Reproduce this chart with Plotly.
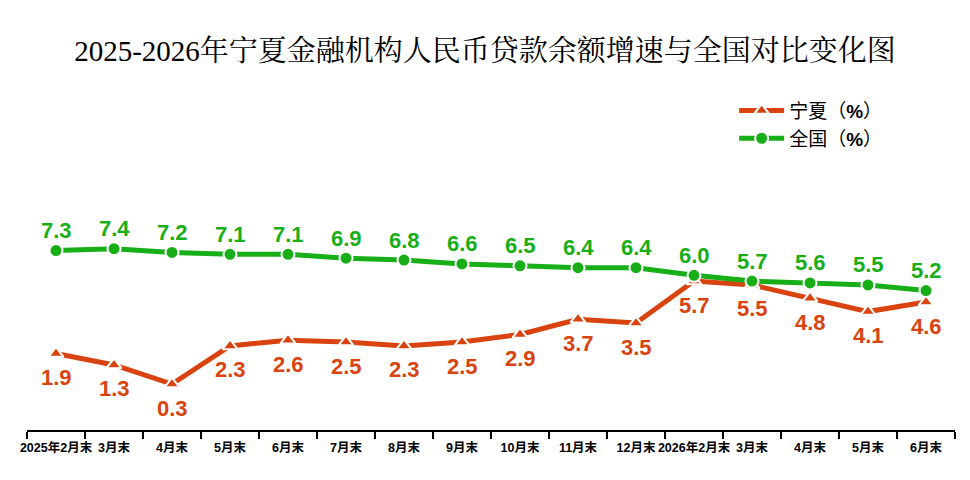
import plotly.graph_objects as go

months = ["2025年2月末", "3月末", "4月末", "5月末", "6月末", "7月末", "8月末", "9月末",
          "10月末", "11月末", "12月末", "2026年2月末", "3月末", "4月末", "5月末", "6月末"]
ningxia = [1.9, 1.3, 0.3, 2.3, 2.6, 2.5, 2.3, 2.5, 2.9, 3.7, 3.5, 5.7, 5.5, 4.8, 4.1, 4.6]
quanguo = [7.3, 7.4, 7.2, 7.1, 7.1, 6.9, 6.8, 6.6, 6.5, 6.4, 6.4, 6.0, 5.7, 5.6, 5.5, 5.2]

red = "#D8430F"
green = "#18AE18"
x = list(range(len(months)))

fig = go.Figure()
fig.add_trace(go.Scatter(
    x=x, y=ningxia, name="宁夏（<b>%</b>）", mode="lines+markers",
    line=dict(color=red, width=5),
    marker=dict(symbol="triangle-up", size=13, color=red, line=dict(color="white", width=2)),
))
fig.add_trace(go.Scatter(
    x=x, y=quanguo, name="全国（<b>%</b>）", mode="lines+markers",
    line=dict(color=green, width=5),
    marker=dict(symbol="circle", size=13, color=green, line=dict(color="white", width=2)),
))

# data labels
lab_font = "Liberation Sans, Arial, sans-serif"
for i, v in enumerate(ningxia):
    fig.add_annotation(x=i, y=v, text="<b>%.1f</b>" % v, showarrow=False, yshift=-24,
                       font=dict(family=lab_font, size=22, color=red))
for i, v in enumerate(quanguo):
    fig.add_annotation(x=i, y=v, text="<b>%.1f</b>" % v, showarrow=False, yshift=20,
                       font=dict(family=lab_font, size=22, color=green))

fig.update_layout(
    width=970, height=480,
    paper_bgcolor="white", plot_bgcolor="white",
    margin=dict(l=27, r=15, t=90, b=50),
    title=dict(text="2025-2026年宁夏金融机构人民币贷款余额增速与全国对比变化图",
               x=0.5, xanchor="center", y=0.895, yanchor="middle",
               font=dict(family="Liberation Serif, Noto Serif CJK SC, Noto Sans CJK SC, serif",
                         size=29, color="black")),
    legend=dict(x=0.762, y=0.995, xanchor="left", yanchor="top", itemwidth=45,
                font=dict(family="Liberation Sans, Noto Sans CJK SC, sans-serif", size=19, color="black"),
                bgcolor="rgba(0,0,0,0)", tracegroupgap=0),
    showlegend=True,
)
fig.update_xaxes(
    range=[-0.5, len(months) - 0.5],
    tickvals=x, ticktext=["<b>%s</b>" % m for m in months],
    tickfont=dict(family="Liberation Sans, Noto Sans CJK SC, sans-serif", size=12.5, color="black"),
    tickangle=0, automargin=False, ticklabelstandoff=5,
    ticks="", showgrid=False, zeroline=False,
    showline=True, linecolor="black", linewidth=2,
    minor=dict(tickvals=[i - 0.5 for i in range(len(months) + 1)], ticks="outside",
               ticklen=7, tickwidth=2, tickcolor="black", showgrid=False),
)
fig.update_yaxes(range=[-2.11, 15.72], visible=False, showgrid=False, zeroline=False)

fig.write_html("out.html", config={"displayModeBar": False},
               post_script="document.body.style.margin='0';")
